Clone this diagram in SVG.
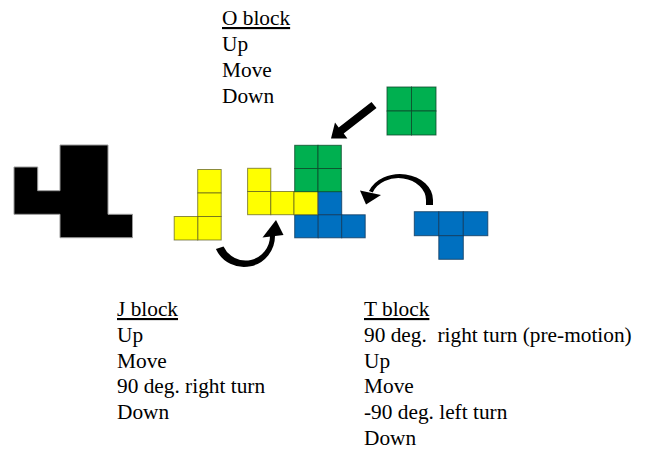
<svg xmlns="http://www.w3.org/2000/svg" width="646" height="450" viewBox="0 0 646 450">
<style>
.t{font-family:"Liberation Serif","Times New Roman",serif;font-size:21.33px;fill:#000}
.u{text-decoration:underline}
.y{fill:#FFFF00;stroke:#5a5a1e;stroke-opacity:0.7;stroke-width:1}
.g{fill:#00B050;stroke:#0c4a2a;stroke-opacity:0.8;stroke-width:1}
.b{fill:#0070C0;stroke:#103a5c;stroke-opacity:0.8;stroke-width:1}
.k{fill:#000;stroke:#9a9a9a;stroke-width:1}
.head{fill:#000}
</style>

<g id="black-shape">
<polygon class="k" points="14,167 37.7,167 37.7,190.7 60,190.7 60,145 108,145 108,214.3 132.5,214.3 132.5,237.7 60,237.7 60,214.3 14,214.3"/>
</g>

<g id="j-block-start">
<rect class="y" x="197.7" y="169.5" width="23.5" height="23.5"/>
<rect class="y" x="197.7" y="193" width="23.5" height="23.5"/>
<rect class="y" x="197.7" y="216.5" width="23.5" height="23.5"/>
<rect class="y" x="174.2" y="216.5" width="23.5" height="23.5"/>
</g>

<g id="t-block-target">
<rect class="b" x="318.2" y="191.5" width="23.5" height="23.3"/>
<rect class="b" x="294.7" y="214.8" width="23.5" height="23"/>
<rect class="b" x="318.2" y="214.8" width="23.5" height="23"/>
<rect class="b" x="341.7" y="214.8" width="23.5" height="23"/>
</g>

<g id="j-block-target">
<rect class="y" x="247.6" y="168.3" width="23.2" height="23.2"/>
<rect class="y" x="247.6" y="191.5" width="23.2" height="23.2"/>
<rect class="y" x="270.8" y="191.5" width="23.2" height="23.2"/>
<rect class="y" x="294" y="191.5" width="23.6" height="23.2"/>
</g>

<g id="o-block-target">
<rect class="g" x="294.7" y="145.3" width="23.3" height="23.2"/>
<rect class="g" x="318" y="145.3" width="23.3" height="23.2"/>
<rect class="g" x="294.7" y="168.5" width="23.3" height="23.2"/>
<rect class="g" x="318" y="168.5" width="23.3" height="23.2"/>
</g>

<g id="o-block-start">
<rect class="g" x="387" y="87" width="24.5" height="24"/>
<rect class="g" x="411.5" y="87" width="24.5" height="24"/>
<rect class="g" x="387" y="111" width="24.5" height="24"/>
<rect class="g" x="411.5" y="111" width="24.5" height="24"/>
</g>

<g id="t-block-start">
<rect class="b" x="414.3" y="211.7" width="24.5" height="24"/>
<rect class="b" x="438.8" y="211.7" width="24.5" height="24"/>
<rect class="b" x="463.3" y="211.7" width="24.5" height="24"/>
<rect class="b" x="438.8" y="235.7" width="24.5" height="23.6"/>
</g>

<g id="connectors">
<polygon class="head" points="376.5,108.1 371.5,101.9 338.7,127.4 335,122.6 331,138.5 347.4,138.4 343.7,133.6"/>
<path class="head" d="M 215.9,249.1 A 31 31 0 0 0 275,236 L 270,236.1 A 24.4 24.4 0 0 1 223.5,246.4 Z"/>
<polygon class="head" points="262.5,237.5 283.5,235 276,220"/>
<path class="head" d="M 433,205 L 433,200 A 33 26 0 0 0 369,191.1 L 372.7,192.5 A 27.5 22 0 0 1 426,200 L 426,205 Z"/>
<polygon class="head" points="360,190.5 381,195 366,204.5"/>
</g>

<g id="o-label">
<text class="t u" x="222" y="25">O block</text>
<text class="t" x="222" y="51">Up</text>
<text class="t" x="222" y="77">Move</text>
<text class="t" x="222" y="103">Down</text>
</g>

<g id="j-label">
<text class="t u" x="117" y="316">J block</text>
<text class="t" x="117" y="341.8">Up</text>
<text class="t" x="117" y="367.6">Move</text>
<text class="t" x="117" y="393.4">90 deg. right turn</text>
<text class="t" x="117" y="419.2">Down</text>
</g>

<g id="t-label">
<text class="t u" x="364" y="316">T block</text>
<text class="t" x="364" y="341.8" xml:space="preserve">90 deg.  right turn (pre-motion)</text>
<text class="t" x="364" y="367.6">Up</text>
<text class="t" x="364" y="393.4">Move</text>
<text class="t" x="364" y="419.2">-90 deg. left turn</text>
<text class="t" x="364" y="445">Down</text>
</g>
</svg>
